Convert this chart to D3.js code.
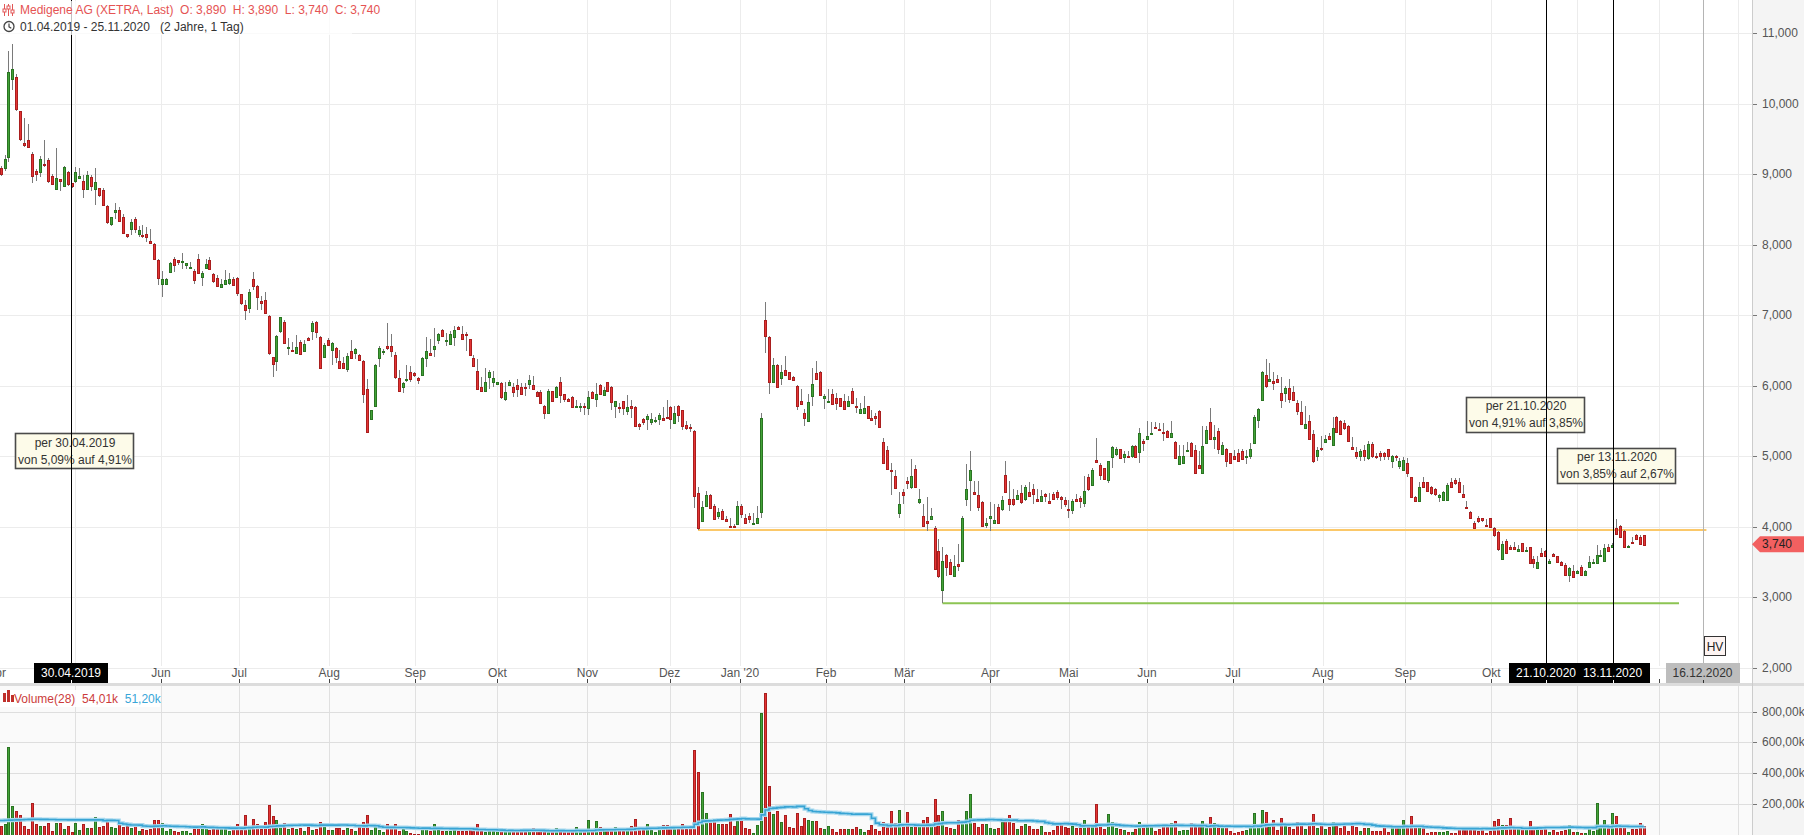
<!DOCTYPE html>
<html><head><meta charset="utf-8">
<script src="https://cdn.jsdelivr.net/npm/d3@7"></script>
<style>
html,body{margin:0;padding:0;background:#fff;overflow:hidden;}
svg{display:block;font-family:"Liberation Sans",Arial,sans-serif;}
</style></head><body>
<svg id="c" width="1804" height="835"></svg>
<script>
// ---------------- DATA ----------------
const openP = [9.15,9.09,9.09,9.24,10.35,10.38,9.90,9.44,9.48,9.29,
9.05,9.03,9.14,9.20,8.98,8.79,8.93,8.83,9.03,8.87,
8.91,8.95,8.91,8.79,8.96,8.79,8.80,8.78,8.55,8.29,
8.46,8.49,8.39,8.15,8.22,8.36,8.15,8.14,8.15,8.05,
8.01,7.78,7.44,7.44,7.61,7.80,7.78,7.75,7.71,7.67,
7.63,7.80,7.54,7.67,7.78,7.58,7.53,7.40,7.44,7.46,
7.51,7.53,7.30,7.14,7.10,7.51,7.41,7.20,7.22,6.99,
6.41,6.35,6.78,6.90,6.53,6.51,6.46,6.62,6.49,6.68,
6.78,6.90,6.69,6.41,6.65,6.51,6.53,6.35,6.32,6.24,
6.49,6.46,6.43,6.35,5.95,5.53,5.72,6.40,6.48,6.56,
6.57,6.43,6.11,5.99,6.09,6.19,6.18,6.11,6.16,6.40,
6.46,6.52,6.65,6.79,6.63,6.59,6.69,6.83,6.74,6.74,
6.66,6.40,6.21,5.99,5.92,6.13,6.05,6.02,6.04,5.81,
6.01,5.98,6.01,5.99,5.98,6.02,6.01,5.91,5.91,5.72,
5.61,5.92,5.84,6.06,5.88,5.81,5.84,5.71,5.70,5.71,
5.68,5.91,5.81,6.01,5.87,6.05,5.99,5.72,5.70,5.78,
5.64,5.72,5.70,5.46,5.53,5.53,5.49,5.51,5.53,5.55,
5.56,5.70,5.47,5.72,5.65,5.44,5.42,5.36,4.48,4.08,
4.30,4.45,4.29,4.15,4.22,4.11,4.01,4.01,4.04,4.30,
4.12,4.15,4.05,4.05,4.21,6.94,6.69,6.06,6.30,6.11,
6.23,6.19,6.13,6.00,5.79,5.62,5.50,5.85,6.18,6.19,
5.82,5.78,5.88,5.82,5.82,5.79,5.71,5.92,5.72,5.62,
5.62,5.71,5.54,5.57,5.64,5.20,5.09,4.80,4.72,4.19,
4.50,4.65,4.57,4.82,4.35,4.15,4.08,4.11,3.98,3.65,
3.11,3.60,3.50,3.30,3.47,3.52,4.39,4.66,4.50,4.45,
4.35,4.02,4.12,4.06,4.28,4.25,4.74,4.40,4.40,4.40,
4.48,4.39,4.49,4.53,4.40,4.37,4.47,4.36,4.46,4.49,
4.42,4.38,4.25,4.24,4.39,4.41,4.34,4.71,4.60,4.95,
4.87,4.83,4.66,4.99,5.03,5.11,4.99,5.01,5.00,5.15,
5.06,5.21,5.25,5.31,5.41,5.39,5.35,5.36,5.28,5.20,
4.89,4.90,5.07,5.19,5.09,4.87,4.76,5.19,5.49,5.25,
5.36,5.03,5.11,5.04,5.00,5.04,5.07,4.99,5.01,5.19,
5.52,5.80,6.16,6.07,6.07,6.10,5.90,5.90,5.97,5.91,
5.76,5.63,5.40,5.50,5.31,5.01,5.12,5.20,5.29,5.16,
5.56,5.50,5.47,5.43,5.13,5.06,5.01,5.09,4.97,5.17,
5.01,5.05,5.04,5.10,4.94,5.00,4.86,4.81,4.90,4.70,
4.42,4.36,4.63,4.63,4.56,4.53,4.42,4.375,4.375,4.63,
4.67,4.64,4.47,4.28,4.21,4.05,4.13,4.12,4.02,4.12,
3.99,3.92,3.55,3.80,3.72,3.72,3.66,3.765,3.65,3.71,
3.55,3.41,3.63,3.65,3.48,3.62,3.58,3.505,3.46,3.32,
3.37,3.35,3.43,3.32,3.425,3.48,3.49,3.59,3.52,3.71,
3.72,3.98,4.01,3.94,3.71,3.78,3.88,3.86,3.89];

const highP = [9.20,9.12,9.27,10.75,10.85,10.42,9.90,9.80,9.71,9.32,
9.08,9.26,9.49,9.23,9.00,9.38,8.93,9.12,9.04,8.88,
9.11,9.09,8.99,9.05,8.99,9.09,8.81,8.80,8.56,8.40,
8.60,8.54,8.44,8.16,8.37,8.40,8.27,8.28,8.25,8.22,
8.02,7.80,7.63,7.53,7.75,7.82,7.79,7.88,7.74,7.75,
7.65,7.87,7.63,7.80,7.83,7.60,7.57,7.52,7.64,7.60,
7.55,7.55,7.30,7.21,7.37,7.61,7.43,7.27,7.33,7.00,
6.41,6.72,6.98,6.93,6.68,6.62,6.72,6.65,6.65,6.69,
6.92,6.92,6.70,6.61,6.68,6.62,6.55,6.51,6.41,6.47,
6.65,6.53,6.45,6.36,6.10,5.66,6.31,6.56,6.52,6.89,
6.74,6.48,6.22,6.06,6.30,6.28,6.20,6.13,6.41,6.69,
6.67,6.82,6.75,6.80,6.75,6.78,6.85,6.85,6.85,6.76,
6.67,6.44,6.38,6.12,6.25,6.23,6.21,6.06,6.05,6.05,
6.08,6.04,6.10,6.04,6.04,6.15,6.14,5.92,5.94,5.73,
5.96,5.93,6.00,6.12,5.89,5.82,5.85,5.80,5.75,5.75,
5.92,5.92,6.04,6.02,5.98,6.06,6.00,5.79,5.75,5.79,
5.87,5.80,5.71,5.47,5.54,5.60,5.62,5.56,5.61,5.70,
5.80,5.71,5.72,5.73,5.66,5.50,5.46,5.37,4.56,4.37,
4.51,4.46,4.33,4.26,4.25,4.16,4.12,4.04,4.36,4.33,
4.18,4.19,4.19,4.29,5.61,7.19,6.70,6.39,6.31,6.30,
6.42,6.20,6.14,6.01,5.96,5.67,5.89,6.25,6.35,6.21,
5.89,5.95,5.96,5.90,5.83,5.89,5.85,5.97,5.82,5.75,
5.85,5.72,5.65,5.61,5.65,5.26,5.14,4.90,4.80,4.50,
4.54,4.70,4.96,4.87,4.53,4.33,4.42,4.26,4.01,3.82,
3.71,3.62,3.55,3.60,3.75,4.15,4.89,5.07,4.65,4.65,
4.37,4.12,4.35,4.33,4.33,4.43,4.93,4.65,4.53,4.52,
4.59,4.60,4.63,4.61,4.53,4.52,4.48,4.48,4.50,4.52,
4.44,4.42,4.38,4.39,4.47,4.43,4.72,4.75,4.84,5.26,
4.90,4.84,4.94,5.14,5.13,5.11,5.07,5.07,5.16,5.16,
5.40,5.25,5.50,5.49,5.49,5.47,5.47,5.37,5.50,5.21,
5.16,5.16,5.20,5.20,5.16,5.08,5.43,5.43,5.68,5.44,
5.40,5.20,5.12,5.05,5.09,5.10,5.11,5.09,5.19,5.58,
5.68,6.21,6.38,6.33,6.19,6.16,6.13,6.00,6.09,6.00,
5.80,5.78,5.71,5.58,5.37,5.13,5.29,5.30,5.33,5.56,
5.57,5.52,5.52,5.44,5.28,5.13,5.11,5.16,5.21,5.20,
5.05,5.08,5.06,5.11,5.02,5.02,4.97,4.99,4.97,4.71,
4.43,4.63,4.71,4.64,4.58,4.55,4.47,4.51,4.62,4.69,
4.69,4.69,4.59,4.36,4.22,4.08,4.16,4.13,4.11,4.13,
4.00,3.94,3.80,3.83,3.74,3.79,3.74,3.775,3.72,3.72,
3.58,3.58,3.70,3.67,3.55,3.63,3.59,3.51,3.48,3.43,
3.46,3.39,3.46,3.39,3.58,3.55,3.74,3.67,3.76,3.76,
3.77,4.11,4.02,3.95,3.74,3.86,3.90,3.89,3.89];

const lowP = [9.05,8.98,9.05,9.18,10.20,9.90,9.47,9.39,9.38,8.87,
8.91,8.96,9.10,8.88,8.85,8.78,8.76,8.82,8.84,8.80,
8.88,8.93,8.67,8.78,8.76,8.57,8.68,8.55,8.30,8.26,
8.37,8.32,8.16,8.10,8.14,8.17,8.11,8.10,8.04,8.01,
7.79,7.43,7.26,7.43,7.60,7.61,7.72,7.65,7.65,7.66,
7.44,7.58,7.41,7.65,7.64,7.46,7.40,7.39,7.43,7.43,
7.42,7.27,7.15,6.94,7.03,7.36,7.07,7.07,7.02,6.43,
6.13,6.21,6.75,6.60,6.44,6.48,6.45,6.44,6.48,6.64,
6.65,6.68,6.24,6.40,6.57,6.30,6.32,6.24,6.24,6.20,
6.38,6.38,6.35,5.75,5.33,5.52,5.71,6.26,6.44,6.51,
6.41,6.10,5.91,5.90,6.06,6.06,6.12,6.02,6.15,6.26,
6.43,6.41,6.60,6.69,6.56,6.58,6.56,6.79,6.66,6.50,
6.42,6.27,5.94,5.91,5.91,5.95,5.99,6.01,5.81,5.79,
6.00,5.84,5.84,5.88,5.85,5.96,5.95,5.84,5.74,5.53,
5.60,5.78,5.83,5.76,5.77,5.78,5.69,5.70,5.63,5.59,
5.59,5.81,5.70,5.88,5.86,5.91,5.66,5.55,5.61,5.58,
5.58,5.55,5.41,5.38,5.44,5.38,5.45,5.47,5.45,5.50,
5.54,5.39,5.46,5.49,5.38,5.37,5.35,4.26,3.955,4.07,
4.28,4.25,4.09,4.11,4.10,4.07,3.99,3.99,4.02,4.12,
4.05,4.06,4.04,4.04,4.12,6.47,5.88,6.05,5.98,6.01,
6.15,6.08,6.07,5.65,5.73,5.43,5.48,5.72,6.08,5.86,
5.67,5.77,5.73,5.65,5.70,5.66,5.70,5.74,5.62,5.61,
5.61,5.53,5.51,5.45,5.40,4.89,4.81,4.45,4.54,4.12,
4.32,4.53,4.53,4.55,4.33,4.00,3.94,4.10,3.39,3.28,
2.915,3.30,3.32,3.29,3.37,3.51,4.30,4.23,4.45,4.23,
4.00,3.98,3.94,4.04,4.04,4.22,4.49,4.23,4.30,4.38,
4.33,4.37,4.43,4.33,4.35,4.36,4.35,4.33,4.39,4.38,
4.25,4.28,4.12,4.18,4.36,4.26,4.28,4.51,4.58,4.90,
4.66,4.67,4.62,4.83,5.01,4.96,4.90,4.99,4.98,4.98,
4.91,5.07,5.24,5.30,5.39,5.37,5.22,5.27,5.27,4.96,
4.88,4.89,5.06,5.00,4.75,4.82,4.75,5.18,5.23,5.10,
5.03,5.02,4.85,4.90,4.95,4.92,4.95,4.89,4.96,5.18,
5.40,5.79,5.97,6.05,5.94,6.04,5.68,5.77,5.76,5.79,
5.58,5.45,5.39,5.24,4.90,4.93,5.07,5.19,5.23,5.15,
5.33,5.30,5.38,5.20,5.10,4.96,4.94,4.93,4.95,4.98,
4.96,4.94,4.95,4.95,4.84,4.94,4.82,4.79,4.71,4.41,
4.35,4.35,4.55,4.50,4.45,4.44,4.35,4.36,4.36,4.55,
4.60,4.48,4.41,4.25,4.11,3.97,4.06,4.07,4.00,3.99,
3.86,3.66,3.54,3.62,3.68,3.68,3.65,3.64,3.64,3.48,
3.41,3.40,3.58,3.57,3.47,3.57,3.49,3.45,3.31,3.22,
3.28,3.34,3.30,3.31,3.42,3.47,3.48,3.58,3.51,3.65,
3.71,3.88,3.85,3.70,3.70,3.77,3.81,3.74,3.74];

const closeP = [9.10,9.00,9.22,10.45,10.49,9.92,9.50,9.41,9.39,8.98,
9.00,9.22,9.13,8.91,8.86,8.95,8.90,9.11,8.86,8.83,
9.03,8.98,8.79,8.99,8.83,8.89,8.70,8.56,8.32,8.39,
8.49,8.34,8.17,8.12,8.32,8.22,8.21,8.12,8.11,8.02,
7.80,7.53,7.51,7.51,7.74,7.71,7.75,7.77,7.74,7.68,
7.50,7.60,7.60,7.73,7.65,7.48,7.41,7.44,7.50,7.51,
7.43,7.31,7.17,7.07,7.33,7.41,7.26,7.17,7.03,6.46,
6.31,6.70,6.97,6.61,6.55,6.49,6.55,6.45,6.59,6.65,
6.89,6.76,6.25,6.58,6.58,6.61,6.41,6.25,6.25,6.42,
6.39,6.52,6.36,5.89,5.34,5.65,6.30,6.53,6.49,6.54,
6.50,6.12,5.92,6.04,6.10,6.10,6.15,6.08,6.40,6.50,
6.44,6.57,6.73,6.71,6.65,6.74,6.79,6.80,6.67,6.73,
6.43,6.28,5.96,5.92,6.05,6.19,6.11,6.05,5.84,5.91,
6.06,5.91,5.96,5.89,5.97,6.08,5.96,5.85,5.75,5.61,
5.92,5.79,5.99,5.87,5.81,5.79,5.70,5.72,5.71,5.70,
5.84,5.82,5.89,5.89,5.94,5.92,5.77,5.78,5.68,5.68,
5.70,5.68,5.43,5.43,5.49,5.57,5.53,5.52,5.58,5.51,
5.55,5.53,5.61,5.59,5.43,5.40,5.41,4.44,3.98,4.28,
4.45,4.26,4.11,4.21,4.11,4.08,4.00,4.00,4.30,4.18,
4.06,4.11,4.06,4.12,5.55,6.70,6.06,6.30,5.99,6.19,
6.16,6.09,6.08,5.72,5.74,5.55,5.77,6.02,6.09,5.87,
5.85,5.79,5.74,5.75,5.71,5.67,5.79,5.75,5.71,5.67,
5.68,5.54,5.52,5.55,5.41,4.90,4.82,4.79,4.55,4.32,
4.45,4.62,4.72,4.56,4.40,4.01,4.05,4.16,3.40,3.30,
3.52,3.43,3.33,3.44,3.45,4.13,4.53,4.80,4.46,4.28,
4.01,4.05,4.16,4.09,4.05,4.38,4.50,4.33,4.32,4.45,
4.35,4.57,4.44,4.47,4.37,4.43,4.44,4.34,4.40,4.42,
4.39,4.33,4.24,4.37,4.37,4.37,4.51,4.54,4.81,4.92,
4.74,4.68,4.93,5.13,5.10,4.97,5.03,5.00,5.15,4.99,
5.33,5.19,5.29,5.33,5.40,5.38,5.33,5.28,5.33,4.97,
5.01,5.01,5.09,5.01,4.76,4.83,5.14,5.38,5.24,5.28,
5.11,5.16,4.94,4.91,4.96,4.93,4.96,5.01,5.11,5.56,
5.67,6.20,6.00,6.10,6.04,6.05,5.80,5.97,5.81,5.80,
5.64,5.46,5.46,5.25,4.93,5.09,5.11,5.24,5.24,5.40,
5.34,5.31,5.40,5.21,5.11,5.01,5.07,5.00,5.18,5.00,
4.985,5.01,5.01,5.01,5.00,4.985,4.94,4.95,4.77,4.42,
4.36,4.56,4.57,4.51,4.475,4.46,4.45,4.49,4.60,4.56,
4.62,4.49,4.42,4.26,4.12,3.98,4.08,4.09,4.01,4.00,
3.88,3.69,3.75,3.63,3.69,3.69,3.68,3.65,3.67,3.49,
3.49,3.505,3.59,3.58,3.52,3.58,3.50,3.46,3.32,3.42,
3.29,3.37,3.31,3.38,3.50,3.505,3.60,3.60,3.70,3.66,
3.74,3.90,3.86,3.71,3.73,3.775,3.82,3.75,3.74];

// daily volume in thousands of shares
const volumeK = [50,60,
71,571,188,156,130,58,39,208,71,58, 58,78,22,78,78,39,58,15,78,32, 71,45,45,117,52,58,91,52,45,71,
52,58,45,58,26,39,32,39,97,97, 78,26,39,22,15,26,22,11,39,58, 71,58,32,39,39,39,39,22,45,71,
32,130,52,104,71,39,84,195,123,97, 52,78,39,45,39,45,26,52,32,39, 84,52,32,32,45,45,32,45,39,22,
52,84,130,32,52,32,15,71,52,71, 26,39,22,11,6,6,39,39,26,71, 32,22,26,26,39,26,22,26,45,26,
71,22,15,22,22,22,22,22,32,22, 32,22,15,22,45,22,22,22,15,22, 45,26,22,22,26,52,26,32,97,26,
91,52,
32,26,39,52,45,26,39,58,104,52, 32,71,32,19,58,65,65,39,39,39, 71,39,52,552,409,279,143,84,91,71,
71,71,136,58,91,117,45,39,13,65, 792,922,318,136,156,84,130,52,45,143, 58,110,97,91,91,45,39,58,39,19,
39,39,39,39,52,39,19,32,65,39, 26,84,52,156,78,162,65,149,52,58, 58,97,117,58,234,130,156,52,45,39,
97,91,156,266,78,52,71,71,45,39, 45,84,110,130,78,39,58,71,58,39, 39,58,19,19,32,58,78,52,45,58,
45,45,97,52,65,201,58,39,136,84, 45,39,32,19,19,39,84,65,71,58, 26,39,58,52,78,91,26,32,32,78,
52,52,
91,71,117,78,52,65,52,26,13,19, 26,32,58,143,58,162,149,71,97,32, 110,58,52,39,84,84,39,71,136,45,
65,39,52,84,58,45,58,26,65,52, 26,45,45,26,26,26,52,19,52,52, 58,97,58,123,52,58,45,13,19,19,
19,19,26,13,13,39,32,52,32,39, 26,52,13,26,91,104,65,65,110,52, 58,39,39,91,52,52,52,52,19,32,
19,26,32,65,19,19,13,13,58,26, 208,58,97,45,143,123,45,58,19,39, 39,78,54];

// 28-day volume average for the first 27 sessions (window starts before the chart)
const volumeMaHeadK = [93,93,94,95,96,97,98,99,100,101,101,100,100,99,99,98,98,98,97,97,97,97,97,97,97,97,97];
const maPeriod = 28;

const firstDate = "2019-04-01";
const lastDate = "2020-11-25";
const holidays = ["2019-04-19","2019-04-22","2019-05-01","2019-12-24","2019-12-25","2019-12-26","2019-12-31",
  "2020-01-01","2020-04-10","2020-04-13","2020-05-01","2020-12-24","2020-12-25","2020-12-31","2021-01-01"];
const monthNames = ["Jan","Feb","Mär","Apr","Mai","Jun","Jul","Aug","Sep","Okt","Nov","Dez"];
const priceTicks = [2,3,4,5,6,7,8,9,10,11];
const volumeTicks = [200,400,600,800];
const markerDates = [
  {date:"2019-04-30", label:"30.04.2019", kind:"event"},
  {date:"2020-10-21", label:"21.10.2020", kind:"event"},
  {date:"2020-11-13", label:"13.11.2020", kind:"event"},
  {date:"2020-12-16", label:"16.12.2020", kind:"hv"}
];
const notes = [
  {date:"2019-04-30", dx:3, price:5.08, lines:["per 30.04.2019","von 5,09% auf 4,91%"]},
  {date:"2020-10-21", dx:-21, price:5.60, lines:["per 21.10.2020","von 4,91% auf 3,85%"]},
  {date:"2020-11-13", dx:3.5, price:4.875, lines:["per 13.11.2020","von 3,85% auf 2,67%"]}
];
const supportLines = [
  {fromCandle:178, toDate:"2020-12-17", color:"#fbc869"},
  {fromCandle:240, toDate:"2020-12-08", color:"#8dc453"}
];
const headerTitle = "Medigene AG (XETRA, Last)  O: 3,890  H: 3,890  L: 3,740  C: 3,740";
const headerRange = "01.04.2019 - 25.11.2020   (2 Jahre, 1 Tag)";
const lastPriceLabel = "3,740";
const volLegend = {name:"Volume(28)", last:"54,01k", avg:"51,20k"};

// ---------------- LAYOUT ----------------
const W = 1804, H = 835;
const plotRight = 1752;
const priceBottom = 663, bandBottom = 683, volTop = 686, volBottom = 835;
const upFill = "#42a338", upStroke = "#2a7422", dnFill = "#e43434", dnStroke = "#a91e1e";

const svg = d3.select("#c");
const fmtDay = d3.utcFormat("%Y-%m-%d");
const hol = new Set(holidays);
const days = [];
for (let d = new Date(Date.UTC(2019,3,1)); d <= new Date(Date.UTC(2021,0,31)); d = d3.utcDay.offset(d,1)) {
  const wd = d.getUTCDay();
  if (wd === 0 || wd === 6) continue;
  if (hol.has(fmtDay(d))) continue;
  days.push(d);
}
const dayIdx = s => days.findIndex(d => fmtDay(d) === s);
const N = openP.length;
const iFirst = dayIdx(firstDate), iLast = dayIdx(lastDate);

// calendar (trading-day) scale and candle scale
const xCal = d3.scaleLinear().domain([dayIdx("2019-04-30"), dayIdx("2020-12-16")]).range([71, 1702.5]);
const xC = d3.scaleLinear().domain([0, N-1]).range([xCal(iFirst), xCal(iLast)]);
const y = d3.scaleLinear().domain([2, 11]).range([667.8, 33.3]);
const yV = d3.scaleLinear().domain([0, 800]).range([834.8, 711.5]);

const defs = svg.append("defs");
defs.append("clipPath").attr("id","cpPrice").append("rect").attr("x",0).attr("y",0).attr("width",plotRight).attr("height",priceBottom);
defs.append("clipPath").attr("id","cpVol").append("rect").attr("x",0).attr("y",volTop).attr("width",plotRight).attr("height",volBottom-volTop);

// backgrounds
svg.append("rect").attr("x",0).attr("y",0).attr("width",W).attr("height",H).attr("fill","#fff");
svg.append("rect").attr("x",0).attr("y",volTop).attr("width",plotRight).attr("height",volBottom-volTop).attr("fill","#fafafa");
svg.append("rect").attr("x",plotRight).attr("y",0).attr("width",W-plotRight).attr("height",H).attr("fill","#f4f4f4");

// month ticks
const monthTicks = [];
days.forEach((d,i) => {
  if (i === 0 || d.getUTCMonth() !== days[i-1].getUTCMonth()) {
    const m = d.getUTCMonth();
    const label = m === 0 ? "Jan '" + String(d.getUTCFullYear()).slice(2) : monthNames[m];
    monthTicks.push({i, x: xCal(i), label});
  }
});
const visTicks = monthTicks.filter(t => t.x < plotRight - 2);

// gridlines
const grid = svg.append("g").attr("shape-rendering","crispEdges");
grid.selectAll(".hg").data(priceTicks).join("line")
  .attr("x1",0).attr("x2",plotRight).attr("y1",d=>Math.round(y(d))+0.5).attr("y2",d=>Math.round(y(d))+0.5)
  .attr("stroke","#ececec");
grid.selectAll(".vg").data(visTicks.filter(t=>t.x>0)).join("line")
  .attr("x1",d=>Math.round(d.x)+0.5).attr("x2",d=>Math.round(d.x)+0.5).attr("y1",0).attr("y2",priceBottom+3)
  .attr("stroke","#ececec");
grid.selectAll(".vgv").data(visTicks.filter(t=>t.x>0)).join("line")
  .attr("x1",d=>Math.round(d.x)+0.5).attr("x2",d=>Math.round(d.x)+0.5).attr("y1",volTop).attr("y2",volBottom)
  .attr("stroke","#e0e0e0");
grid.selectAll(".hgv").data(volumeTicks).join("line")
  .attr("x1",0).attr("x2",plotRight).attr("y1",d=>Math.round(yV(d))+0.5).attr("y2",d=>Math.round(yV(d))+0.5)
  .attr("stroke","#dedede");

// support lines
const pricePlot = svg.append("g").attr("clip-path","url(#cpPrice)");
pricePlot.selectAll(".sup").data(supportLines).join("line")
  .attr("x1",d=>xC(d.fromCandle)).attr("x2",d=>xCal(dayIdx(d.toDate)))
  .attr("y1",d=>y(lowP[d.fromCandle])).attr("y2",d=>y(lowP[d.fromCandle]))
  .attr("stroke",d=>d.color).attr("stroke-width",2);

// candles
const candles = d3.range(N).map(i => ({i, o:openP[i], h:highP[i], l:lowP[i], c:closeP[i], v:volumeK[i]}));
const cg = pricePlot.append("g").attr("shape-rendering","crispEdges");
cg.selectAll(".wick").data(candles).join("line")
  .attr("x1",d=>Math.round(xC(d.i))+0.5).attr("x2",d=>Math.round(xC(d.i))+0.5)
  .attr("y1",d=>y(d.h)).attr("y2",d=>y(d.l)).attr("stroke","#7a7a7a").attr("stroke-width",1);
cg.selectAll(".body").data(candles).join("rect")
  .attr("x",d=>Math.round(xC(d.i))-0.5)
  .attr("y",d=>Math.round(y(Math.max(d.o,d.c)))+0.5)
  .attr("width",2)
  .attr("height",d=>Math.max(1, Math.round(y(Math.min(d.o,d.c))) - Math.round(y(Math.max(d.o,d.c)))))
  .attr("fill",d=>d.c>=d.o?upFill:dnFill)
  .attr("stroke",d=>d.c>=d.o?upStroke:dnStroke).attr("stroke-width",1);

// volume bars
const volPlot = svg.append("g").attr("clip-path","url(#cpVol)");
volPlot.append("g").attr("shape-rendering","crispEdges").selectAll("rect").data(candles).join("rect")
  .attr("x",d=>Math.round(xC(d.i))-0.5)
  .attr("y",d=>Math.round(yV(d.v))+0.5)
  .attr("width",2)
  .attr("height",d=>Math.max(1, Math.round(yV(0)) - Math.round(yV(d.v))))
  .attr("fill",d=>d.c>=d.o?upFill:dnFill)
  .attr("stroke",d=>d.c>=d.o?upStroke:dnStroke).attr("stroke-width",1);

// 28-day volume average
const ma = candles.map((d,i) => {
  if (i < maPeriod-1) return volumeMaHeadK[i];
  return d3.mean(volumeK.slice(i-maPeriod+1, i+1));
});
const maLine = d3.line().x((d,i)=>xC(i)).y(d=>yV(d)).curve(d3.curveStepAfter);
volPlot.append("path").datum(ma).attr("d",maLine).attr("fill","none").attr("stroke","#a6d8ee").attr("stroke-width",4);
volPlot.append("path").datum(ma).attr("d",maLine).attr("fill","none").attr("stroke","#38a4d4").attr("stroke-width",1.6);

// note boxes
const noteG = svg.append("g");
notes.forEach(n => {
  const cx = xCal(dayIdx(n.date)) + n.dx, cy = y(n.price);
  const w = 118, h = 35;
  noteG.append("rect").attr("x",Math.round(cx-w/2)+0.5).attr("y",Math.round(cy-h/2)+0.5).attr("width",w).attr("height",h)
    .attr("fill","#fdfbe9").attr("stroke","#4a4a4a").attr("stroke-width",1.6);
  n.lines.forEach((t,k) => noteG.append("text").attr("x",cx+1).attr("y",cy - 4 + k*17).attr("text-anchor","middle")
    .attr("font-size",12).attr("fill","#333").text(t));
});

// marker lines
markerDates.forEach(m => {
  const x = Math.round(xCal(dayIdx(m.date)))+0.5;
  svg.append("line").attr("x1",x).attr("x2",x).attr("y1",0).attr("y2",bandBottom-20)
    .attr("stroke", m.kind==="hv" ? "#b4b4b4" : "#000").attr("stroke-width",1).attr("shape-rendering","crispEdges");
});

// HV flag
{
  const x = xCal(dayIdx("2020-12-16"));
  svg.append("rect").attr("x",Math.round(x)+1.5).attr("y",636.5).attr("width",21).attr("height",19)
    .attr("fill","#fdf4f2").attr("stroke","#333").attr("stroke-width",1);
  svg.append("text").attr("x",Math.round(x)+12).attr("y",650.5).attr("text-anchor","middle").attr("font-size",12).attr("fill","#222").text("HV");
}

// x axis: labels + tick marks
const boxHalf = 37;
const axisG = svg.append("g");
axisG.selectAll(".tm").data(visTicks).join("line")
  .attr("x1",d=>Math.round(d.x)+0.5).attr("x2",d=>Math.round(d.x)+0.5).attr("y1",679).attr("y2",683)
  .attr("stroke","#444").attr("shape-rendering","crispEdges");
const markerXs = markerDates.map(m => xCal(dayIdx(m.date)));
axisG.selectAll(".tl").data(visTicks.filter(t => markerXs.every(mx => Math.abs(mx - t.x) >= boxHalf + 10))).join("text")
  .attr("x",d=>d.x).attr("y",676.5).attr("text-anchor","middle").attr("font-size",12).attr("fill","#555").text(d=>d.label);
markerDates.forEach(m => {
  const x = xCal(dayIdx(m.date));
  const dark = m.kind !== "hv";
  axisG.append("rect").attr("x",Math.round(x-boxHalf)).attr("y",663).attr("width",boxHalf*2).attr("height",20)
    .attr("fill", dark ? "#000" : "#bdbdbd");
  axisG.append("text").attr("x",x).attr("y",677).attr("text-anchor","middle").attr("font-size",12)
    .attr("fill", dark ? "#fff" : "#333").text(m.label);
  axisG.append("line").attr("x1",Math.round(x)+0.5).attr("x2",Math.round(x)+0.5).attr("y1",680).attr("y2",683)
    .attr("stroke", dark ? "#fff" : "#333").attr("shape-rendering","crispEdges");
});

// separator band
svg.append("rect").attr("x",0).attr("y",bandBottom).attr("width",W).attr("height",volTop-bandBottom).attr("fill","#dcdcdc");

// right axis
svg.append("line").attr("x1",plotRight+0.5).attr("x2",plotRight+0.5).attr("y1",0).attr("y2",H).attr("stroke","#cccccc").attr("shape-rendering","crispEdges");
const ra = svg.append("g");
ra.selectAll(".pt").data(priceTicks).join("line")
  .attr("x1",plotRight+1).attr("x2",plotRight+5).attr("y1",d=>Math.round(y(d))+0.5).attr("y2",d=>Math.round(y(d))+0.5)
  .attr("stroke","#777").attr("shape-rendering","crispEdges");
ra.selectAll(".ptl").data(priceTicks).join("text")
  .attr("x",plotRight+10).attr("y",d=>y(d)+4).attr("font-size",12).attr("fill","#555")
  .text(d=>d.toFixed(3).replace(".",","));
ra.selectAll(".vt").data(volumeTicks).join("line")
  .attr("x1",plotRight+1).attr("x2",plotRight+5).attr("y1",d=>Math.round(yV(d))+0.5).attr("y2",d=>Math.round(yV(d))+0.5)
  .attr("stroke","#777").attr("shape-rendering","crispEdges");
ra.selectAll(".vtl").data(volumeTicks).join("text")
  .attr("x",plotRight+10).attr("y",d=>yV(d)+4).attr("font-size",12).attr("fill","#555")
  .text(d=>d.toFixed(2).replace(".",",")+"k");

// last price label
{
  const yy = y(closeP[N-1]) - 1;
  ra.append("path").attr("d",`M${plotRight},${yy} L${plotRight+8},${yy-8} L${W},${yy-8} L${W},${yy+8} L${plotRight+8},${yy+8} Z`)
    .attr("fill","#f26060");
  ra.append("text").attr("x",plotRight+10).attr("y",yy+4).attr("font-size",12).attr("fill","#222").text(lastPriceLabel);
}

// header
const hd = svg.append("g");
hd.append("rect").attr("x",0).attr("y",1).attr("width",352).attr("height",34).attr("fill","#fff").attr("opacity",0.75);
[4,8,12].forEach((x,k) => {
  hd.append("line").attr("x1",x+0.5).attr("x2",x+0.5).attr("y1",4).attr("y2",16).attr("stroke","#e25656");
  hd.append("rect").attr("x",x-1).attr("y",[9,6,10][k]).attr("width",3).attr("height",3).attr("fill","#fff").attr("stroke","#e25656");
});
hd.append("text").attr("x",20).attr("y",14).attr("font-size",12).attr("fill","#e55353").attr("xml:space","preserve").text(headerTitle);
hd.append("circle").attr("cx",9).attr("cy",26.5).attr("r",5).attr("fill","none").attr("stroke","#444").attr("stroke-width",1.3);
hd.append("path").attr("d","M9,23.5 L9,26.8 L11.3,28.2").attr("fill","none").attr("stroke","#444").attr("stroke-width",1.2);
hd.append("text").attr("x",20).attr("y",31).attr("font-size",12).attr("fill","#333").attr("xml:space","preserve").text(headerRange);

// volume legend
const lg = svg.append("g");
lg.append("rect").attr("x",0).attr("y",690).attr("width",160).attr("height",17).attr("fill","#fff").attr("opacity",0.9);
[[3,4],[7,7],[11,2]].forEach(([x,h]) => lg.append("rect").attr("x",x).attr("y",702-h-5).attr("width",3).attr("height",h+5).attr("fill","#c0302c"));
const lt = lg.append("text").attr("x",14).attr("y",702.5).attr("font-size",12).attr("xml:space","preserve");
lt.append("tspan").attr("fill","#cc3b3b").text(volLegend.name + "  " + volLegend.last + "  ");
lt.append("tspan").attr("fill","#3aa6d8").text(volLegend.avg);
</script>
</body></html>
